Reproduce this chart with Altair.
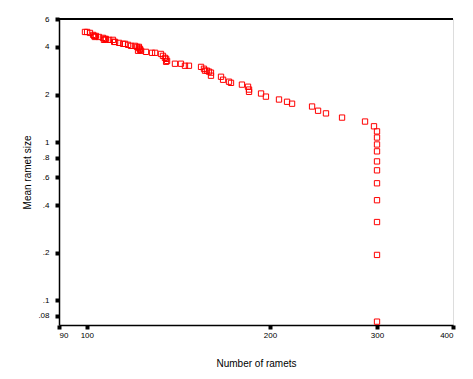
import altair as alt
import pandas as pd

ramets = [99.3, 100.1, 101.2, 102.4, 102.8, 103.1, 103.5, 104.7, 106.3, 106.7,
          107.1, 107.5, 108.8, 110.4, 110.9, 111.3, 113.0, 114.7, 115.6, 116.9,
          118.2, 120.0, 120.9, 121.8, 121.8, 122.3, 122.3, 121.4, 122.8, 125.1,
          128.0, 129.5, 132.4, 133.4, 134.4, 135.0, 135.5, 135.0, 139.6, 142.8,
          145.0, 147.2, 154.1, 155.8, 156.4, 157.6, 158.8, 160.0, 160.0, 166.2,
          167.5, 171.3, 172.6, 179.9, 184.1, 184.8, 184.8, 193.4, 197.0, 207.0,
          213.4, 217.5, 234.6, 240.0, 247.3, 262.8, 286.7, 296.6,
          300, 300, 300, 300, 300, 300, 300, 300, 300, 300, 300]
mean_size = [4.97, 4.97, 4.90, 4.76, 4.69, 4.62, 4.69, 4.62, 4.56, 4.43,
             4.49, 4.49, 4.43, 4.43, 4.30, 4.30, 4.24, 4.18, 4.18, 4.12,
             4.06, 4.06, 4.00, 4.00, 3.94, 3.88, 3.83, 3.78, 3.78, 3.72,
             3.67, 3.67, 3.61, 3.51, 3.41, 3.36, 3.26, 3.22, 3.13, 3.13,
             3.04, 3.04, 2.99, 2.91, 2.83, 2.83, 2.79, 2.75, 2.63, 2.59,
             2.48, 2.41, 2.37, 2.31, 2.24, 2.15, 2.08, 2.03, 1.94, 1.86,
             1.80, 1.75, 1.68, 1.58, 1.52, 1.43, 1.35, 1.26,
             1.17, 1.07, 0.967, 0.875, 0.756, 0.664, 0.550, 0.430, 0.313, 0.194, 0.0735]

x_ticks = [90, 100, 200, 300, 400]
y_ticks = [0.08, 0.1, 0.2, 0.4, 0.6, 0.8, 1, 2, 4, 6]

df = pd.DataFrame({"ramets": ramets, "size": mean_size})

FONT = "Liberation Sans"

points = alt.Chart(df).mark_point(
    shape="square", filled=False, color="#ff0000", size=28, strokeWidth=1, opacity=1
).encode(
    x=alt.X("ramets:Q",
            scale=alt.Scale(type="log", domain=[90, 400], nice=False),
            axis=alt.Axis(values=x_ticks, title="Number of ramets",
                          labelExpr="format(datum.value, '~g')",
                          grid=False, domainColor="black", domainWidth=1.5,
                          tickColor="black", tickSize=4, tickWidth=4,
                          labelFont=FONT, labelFontSize=8, labelColor="black",
                          labelPadding=2, titleFont=FONT, titleFontSize=10,
                          titleFontWeight="normal", titleColor="black",
                          titlePadding=19)),
    y=alt.Y("size:Q",
            scale=alt.Scale(type="log", domain=[0.07, 6], nice=False),
            axis=alt.Axis(values=y_ticks, title="Mean ramet size",
                          labelExpr="datum.value < 1 ? slice(format(datum.value, '~g'), 1) : format(datum.value, '~g')",
                          grid=False, domainColor="black", domainWidth=1.5,
                          tickColor="black", tickSize=4, tickWidth=4,
                          labelFont=FONT, labelFontSize=8, labelColor="black",
                          labelPadding=6, titleFont=FONT, titleFontSize=10,
                          titleFontWeight="normal", titleColor="black",
                          titlePadding=5)),
)

top_line = alt.Chart(df).mark_rule(color="black", strokeWidth=1.5).encode(
    x=alt.value(0), x2=alt.value(394), y=alt.value(0)
)

chart = alt.layer(top_line, points).properties(
    width=394, height=306,
    autosize=alt.AutoSizeParams(type="none"),
    padding={"left": 51, "top": 11, "right": 12, "bottom": 46},
).configure_view(stroke=None).configure(background="white")

chart.save("out.html", embed_options={"renderer": "svg", "actions": False})
